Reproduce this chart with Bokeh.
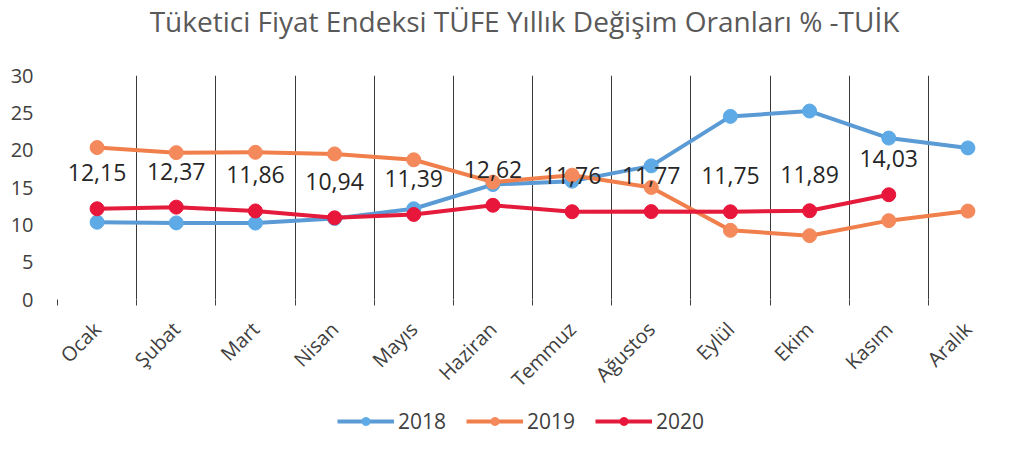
from bokeh.plotting import figure
from bokeh.layouts import column
from bokeh.models import (Range1d, FixedTicker, ColumnDataSource, LabelSet,
                          Legend, Label)
from bokeh.core.properties import value
from bokeh.embed import file_html
from bokeh.resources import INLINE

title_text = "Tüketici Fiyat Endeksi TÜFE Yıllık Değişim Oranları % -TUİK"
months = ["Ocak", "Şubat", "Mart", "Nisan", "Mayıs", "Haziran", "Temmuz",
          "Ağustos", "Eylül", "Ekim", "Kasım", "Aralık"]
tufe_2018 = [10.35, 10.26, 10.23, 10.85, 12.15, 15.39, 15.85, 17.90, 24.52, 25.24, 21.62, 20.30]
tufe_2019 = [20.35, 19.67, 19.71, 19.50, 18.71, 15.72, 16.65, 15.01, 9.26, 8.55, 10.56, 11.84]
tufe_2020 = [12.15, 12.37, 11.86, 10.94, 11.39, 12.62, 11.76, 11.77, 11.75, 11.89, 14.03]
y_ticks = [0, 5, 10, 15, 20, 25, 30]

FONT = "Open Sans"
TXT = "#404040"
W = 1007
LEFT = 57

idx = list(range(len(months)))
boundaries = [i - 0.5 for i in range(len(months) + 1)]

# ---- title strip (its frame is aligned with the chart frame by the column) ----
tf = figure(width=W, height=45, output_backend="svg", toolbar_location=None,
            x_range=Range1d(LEFT, W), y_range=Range1d(0, 45),
            x_axis_type=None, y_axis_type=None,
            min_border=0, outline_line_color=None)
tf.grid.visible = False
tf.add_layout(Label(x=524, y=25, text=title_text, text_align="center",
                    text_baseline="middle", text_font=FONT,
                    text_font_size="28px", text_color="#595959"))

# ---- main chart ----
p = figure(width=W, height=359, output_backend="svg", toolbar_location=None,
           x_range=Range1d(-0.5, len(months) - 0.5), y_range=Range1d(0, 30),
           min_border_left=LEFT, min_border_right=0, min_border_top=30,
           min_border_bottom=104)
p.outline_line_color = None
p.background_fill_color = "white"

p.xaxis.ticker = FixedTicker(ticks=idx, minor_ticks=boundaries)
p.xaxis.major_label_overrides = {i: m for i, m in zip(idx, months)}
p.xaxis.major_label_orientation = 0.785398
p.xaxis.major_tick_line_color = None
p.xaxis.minor_tick_line_color = "#404040"
p.xaxis.minor_tick_in = 0
p.xaxis.minor_tick_out = 6
p.xaxis.axis_line_color = None
p.xaxis.major_label_text_font = FONT
p.xaxis.major_label_text_font_size = "20px"
p.xaxis.major_label_text_color = TXT
p.xaxis.major_label_standoff = 20

p.yaxis.ticker = FixedTicker(ticks=y_ticks)
p.yaxis.axis_line_color = None
p.yaxis.major_tick_line_color = None
p.yaxis.minor_tick_line_color = None
p.yaxis.major_label_text_font = FONT
p.yaxis.major_label_text_font_size = "20px"
p.yaxis.major_label_text_color = TXT
p.yaxis.major_label_standoff = 18

p.ygrid.grid_line_color = None
p.xgrid.grid_line_color = None
p.xgrid.minor_grid_line_color = "#3a3a3a"
p.xgrid.minor_grid_line_width = 1

series = [
    ("2018", tufe_2018, "#5B9BD5", "#5DAAE6"),
    ("2019", tufe_2019, "#F07F4C", "#F4895C"),
    ("2020", tufe_2020, "#E41B3B", "#E8163A"),
]

# ---- legend strip ----
lg = figure(width=W, height=30, output_backend="svg", toolbar_location=None,
            x_range=Range1d(0, 1), y_range=Range1d(-1, 0),
            x_axis_type=None, y_axis_type=None,
            min_border=0, outline_line_color=None)
lg.grid.visible = False

items = []
for name, vals, lc, mc in series:
    src = ColumnDataSource(dict(x=idx[:len(vals)], y=vals))
    p.line("x", "y", source=src, line_color=lc, line_width=4)
    p.scatter("x", "y", source=src, size=14, fill_color=mc, line_color=mc)
    # same data, outside the strip's visible range: only the legend glyph shows
    l1 = lg.line("x", "y", source=src, line_color=lc, line_width=4)
    l2 = lg.scatter("x", "y", source=src, size=14, fill_color=mc, line_color=mc)
    items.append((name, [l1, l2]))

lab_src = ColumnDataSource(dict(x=idx[:len(tufe_2020)], y=tufe_2020,
                                t=[f"{v:.2f}".replace(".", ",") for v in tufe_2020]))
p.add_layout(LabelSet(x="x", y="y", text="t", source=lab_src, y_offset=36,
                      text_align="center", text_baseline="middle",
                      text_font=value(FONT), text_font_size=value("23px"),
                      text_color="#262626"))

legend = Legend(items=items, orientation="horizontal", location=(280, -1),
                label_text_font=FONT, label_text_font_size="21px",
                label_text_color=TXT, glyph_width=57, glyph_height=20,
                spacing=20, label_standoff=4, border_line_color=None,
                background_fill_alpha=0, margin=0, padding=2)
lg.add_layout(legend, "center")

open("out.html", "w").write(file_html(column(tf, p, lg, spacing=0), INLINE))
